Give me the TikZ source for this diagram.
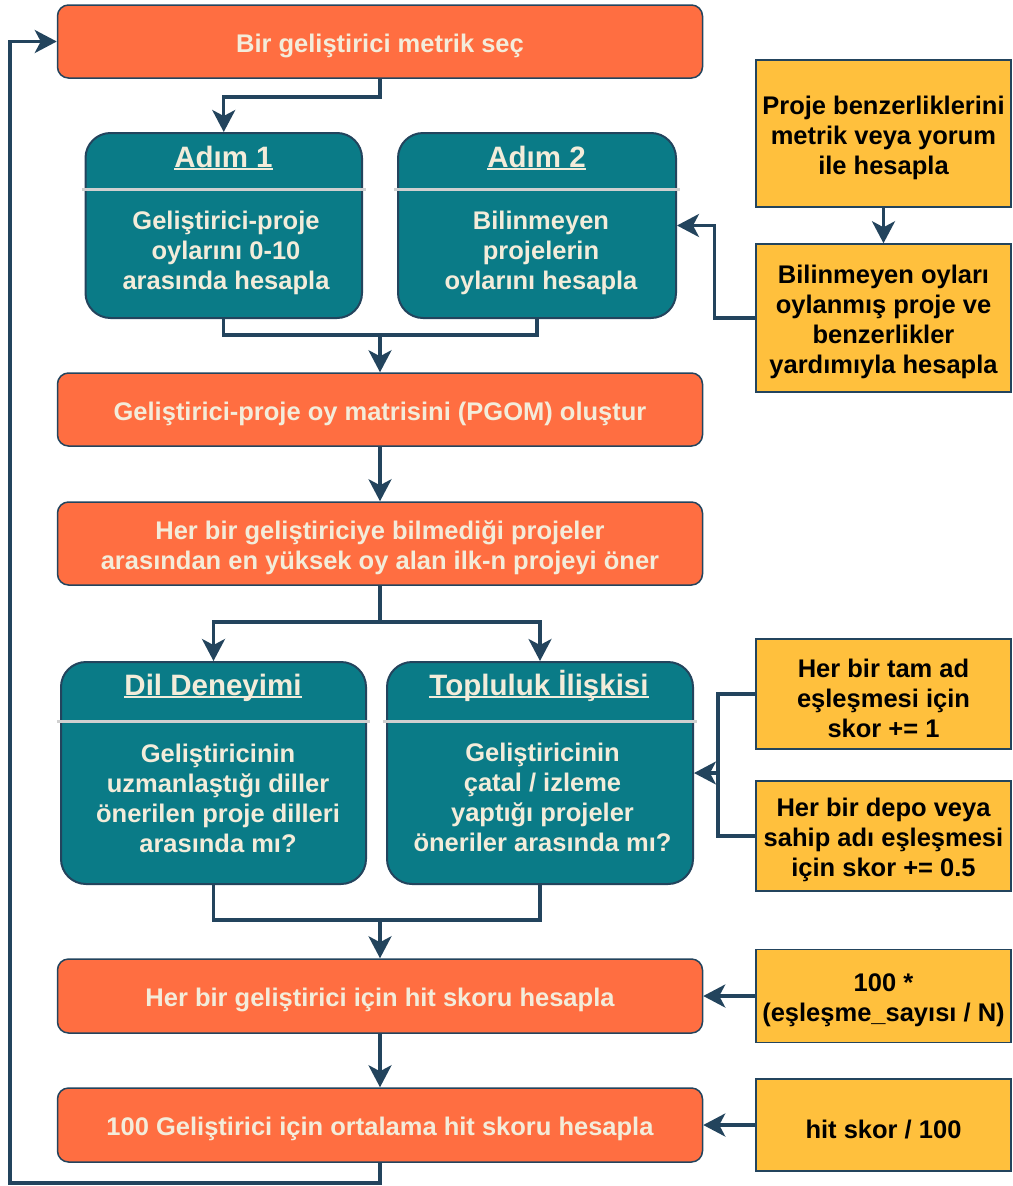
\documentclass[tikz,border=0pt]{standalone}
\usepackage{fontspec}
\setmainfont{Liberation Sans}
\usetikzlibrary{arrows.meta}

\definecolor{orng}{HTML}{FF6E41}
\definecolor{tealbox}{HTML}{0A7B87}
\definecolor{navy}{HTML}{23445D}
\definecolor{ylw}{HTML}{FFC03D}
\definecolor{cream}{HTML}{F3ECDA}
\definecolor{sepgray}{HTML}{D0D0D0}

% underlined heading text
\newcommand\hdrline[1]{\setbox0\hbox{#1}\rlap{\rule[-3pt]{\wd0}{2pt}}\box0}
% invisible strut that sets the text slightly lower in its box
\newcommand\lowstrut{\rule{0pt}{27pt}}

\begin{document}
\begin{tikzpicture}[x=1pt,y=-1pt,
  txt/.style={font=\bfseries\fontsize{25.5}{30}\selectfont, align=center},
  stepbox/.style={draw=navy, line width=1.5pt, fill=orng, rounded corners=11pt,
    minimum width=645pt, inner sep=0pt, text=cream, txt},
  panel/.style={draw=navy, line width=2pt, fill=tealbox, rounded corners=25pt, inner sep=0pt},
  hdr/.style={font=\bfseries\fontsize{29.5}{34}\selectfont, text=cream, anchor=base, inner sep=0pt},
  body/.style={txt, text=cream, inner sep=0pt},
  note/.style={draw=navy, line width=1.5pt, fill=ylw, text=black, txt,
    minimum width=255pt, inner sep=0pt},
  conn/.style={draw=navy, line width=3.3pt},
  arr/.style={conn, -{Stealth[length=22pt,width=23pt,inset=6pt]}},
  sep/.style={draw=sepgray, line width=3pt}
]
\useasboundingbox (0,0) rectangle (1012,1186);

% main process steps
\node[stepbox, minimum height=73pt] (b1) at (380,41.5) {\lowstrut Bir geliştirici metrik seç};
\node[stepbox, minimum height=73pt] (pgom) at (380,409.5) {\lowstrut Geliştirici-proje oy matrisini (PGOM) oluştur};
\node[stepbox, minimum height=83pt] (reco) at (380,543.5) {\lowstrut Her bir geliştiriciye bilmediği projeler\\arasından en yüksek oy alan ilk-n projeyi öner};
\node[stepbox, minimum height=74pt] (hit) at (380,996) {\lowstrut Her bir geliştirici için hit skoru hesapla};
\node[stepbox, minimum height=74pt] (avg) at (380,1125) {\lowstrut 100 Geliştirici için ortalama hit skoru hesapla};

% two-part panels
\node[panel, minimum width=276.5pt, minimum height=185pt] (a1) at (223.75,225.5) {};
\node[panel, minimum width=278pt, minimum height=185pt] (a2) at (537,225.5) {};
\node[panel, minimum width=305pt, minimum height=222pt] (dil) at (213.5,773) {};
\node[panel, minimum width=306pt, minimum height=222pt] (com) at (540,773) {};

\coordinate (s1) at (0,189);
\coordinate (s2) at (0,721);
\draw[sep] ([xshift=-3pt]a1.west |- s1) -- ([xshift=3pt]a1.east |- s1);
\draw[sep] ([xshift=-3pt]a2.west |- s1) -- ([xshift=3pt]a2.east |- s1);
\draw[sep] ([xshift=-3pt]dil.west |- s2) -- ([xshift=3pt]dil.east |- s2);
\draw[sep] ([xshift=-3pt]com.west |- s2) -- ([xshift=3pt]com.east |- s2);

\node[hdr] (a1h) at (223.5,167) {\hdrline{Adım 1}};
\node[hdr] (a2h) at (536.5,167) {\hdrline{Adım 2}};
\node[hdr] (dilh) at (213,695) {\hdrline{Dil Deneyimi}};
\node[hdr] (comh) at (539,695) {\hdrline{Topluluk İlişkisi}};

\node[body] (a1b) at (226,252.5) {Geliştirici-proje\\oylarını 0-10\\arasında hesapla};
\node[body] (a2b) at (541,252.5) {Bilinmeyen\\projelerin\\oylarını hesapla};
\node[body] (dilb) at (218,798) {Geliştiricinin\\uzmanlaştığı diller\\önerilen proje dilleri\\arasında mı?};
\node[body] (comb) at (542.5,797) {Geliştiricinin\\çatal / izleme\\yaptığı projeler\\öneriler arasında mı?};

% side notes
\node[note, minimum height=147pt] (y1) at (883.5,133.5) {\lowstrut Proje benzerliklerini\\metrik veya yorum\\ile hesapla};
\node[note, minimum height=148pt] (y2) at (883.5,318) {\lowstrut Bilinmeyen oyları\\oylanmış proje ve\\benzerlikler\\yardımıyla hesapla};
\node[note, minimum height=110pt] (y3) at (883.5,694) {\lowstrut Her bir tam ad\\eşleşmesi için\\skor += 1};
\node[note, minimum height=110pt] (y4) at (883.5,836) {\lowstrut Her bir depo veya\\sahip adı eşleşmesi\\için skor += 0.5};
\node[note, minimum height=93pt] (y5) at (883.5,996) {\lowstrut 100 *\\(eşleşme\_sayısı / N)};
\node[note, minimum height=92pt] (y6) at (883.5,1125) {\lowstrut hit skor / 100};

% connectors
\coordinate (j1) at (380,97);
\draw[arr] (b1.south) -- (j1) -| (a1.north);

\draw[arr] (y1.south) -- (y2.north);
\draw[arr] (y2.west) -- ++(-41,0) |- (a2.east);

\coordinate (j2) at (380,335);
\draw[conn] (a1.south) |- (j2);
\draw[conn] (a2.south) |- (j2);
\draw[arr] (j2) -- (pgom.north);

\draw[arr] (pgom.south) -- (reco.north);

\coordinate (j3) at (380,622);
\draw[conn] (reco.south) -- (j3);
\draw[arr] (j3) -| (dil.north);
\draw[arr] (j3) -| (com.north);

\coordinate (j4) at (718,773);
\draw[conn] (y3.west) -| (j4);
\draw[conn] (y4.west) -| (j4);
\draw[arr] (j4) -- (com.east);

\coordinate (j5) at (380,920);
\draw[conn] (dil.south) |- (j5);
\draw[conn] (com.south) |- (j5);
\draw[arr] (j5) -- (hit.north);

\draw[arr] (y5.west) -- (hit.east);
\draw[arr] (y6.west) -- (avg.east);
\draw[arr] (hit.south) -- (avg.north);

\coordinate (lp) at (10,1183);
\draw[arr] (avg.south) |- (lp) |- (b1.west);
\end{tikzpicture}
\end{document}
